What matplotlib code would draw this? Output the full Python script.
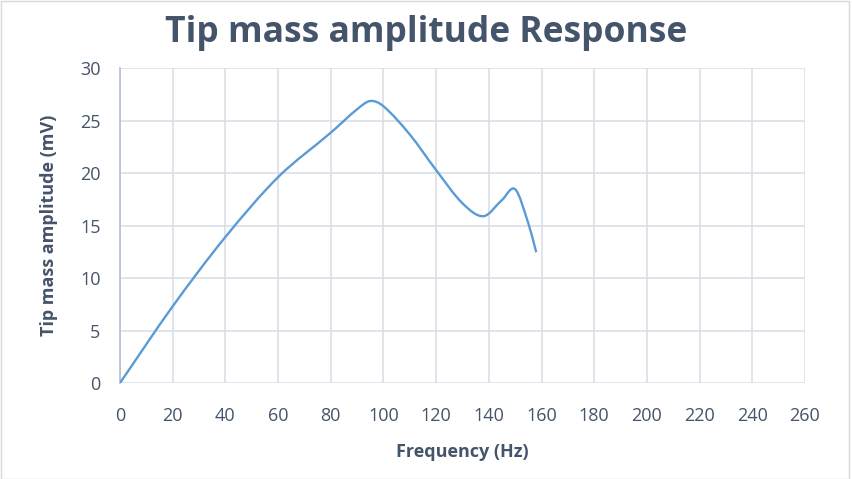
import numpy as np
import matplotlib.pyplot as plt
from matplotlib.path import Path
from matplotlib.patches import PathPatch, Rectangle

freq = [0, 20, 40, 60, 80, 90, 95, 100, 110, 120, 130, 138, 145, 150, 155, 158]
amp = [0, 7.3, 13.9, 19.6, 23.84, 26.07, 26.86, 26.36, 23.67, 20.28, 17.12, 15.89,
       17.43, 18.45, 15.2, 12.45]

x_ticks = list(range(0, 261, 20))
y_ticks = list(range(0, 31, 5))

title_color = '#44546A'
text_color = '#44546A'
grid_color = '#D9DDE4'
line_color = '#5B9BD5'

plt.rcParams['font.family'] = ['Open Sans', 'DejaVu Sans']

fig = plt.figure(figsize=(8.52, 4.79), dpi=100)
ax = fig.add_axes([0.1408, 0.2004, 0.804, 0.6576])

# smoothed line: cubic Hermite segments (central-difference slopes) as Bezier curves
x = np.asarray(freq, float)
y = np.asarray(amp, float)
m = np.empty_like(y)
m[1:-1] = (y[2:] - y[:-2]) / (x[2:] - x[:-2])
m[0] = (y[1] - y[0]) / (x[1] - x[0])
m[-1] = (y[-1] - y[-2]) / (x[-1] - x[-2])
verts = [(x[0], y[0])]
codes = [Path.MOVETO]
for i in range(len(x) - 1):
    h = x[i + 1] - x[i]
    verts += [(x[i] + h / 3, y[i] + m[i] * h / 3),
              (x[i + 1] - h / 3, y[i + 1] - m[i + 1] * h / 3),
              (x[i + 1], y[i + 1])]
    codes += [Path.CURVE4] * 3
ax.add_patch(PathPatch(Path(verts, codes), facecolor='none',
                       edgecolor=line_color, lw=1.7, zorder=3))

ax.set_xlim(0, 260)
ax.set_ylim(0, 30)
ax.set_xticks(x_ticks)
ax.set_yticks(y_ticks)
ax.grid(True, color=grid_color, lw=1.1)
ax.set_axisbelow(True)
for side in ['top', 'right', 'bottom']:
    ax.spines[side].set_visible(False)
ax.spines['left'].set_color('#B4BFCF')
ax.spines['left'].set_linewidth(1.2)
ax.tick_params(length=0, labelsize=13, colors=text_color)
ax.tick_params(axis='x', pad=17)
ax.tick_params(axis='y', pad=14)

ax.set_xlabel('Frequency (Hz)', fontsize=13, fontweight='bold',
              color=text_color, labelpad=13)
ax.set_ylabel('Tip mass amplitude (mV)', fontsize=13, fontweight='bold',
              color=text_color, labelpad=16)
fig.text(0.5, 0.931, 'Tip mass amplitude Response', ha='center', va='center',
         fontsize=25.5, fontweight='bold', color=title_color)

# chart frame
fig.patches.append(Rectangle((0.001, 0.001), 0.995, 0.997, transform=fig.transFigure,
                             fill=False, edgecolor='#D9D9D9', lw=1))

fig.savefig('out.png', dpi=100)
